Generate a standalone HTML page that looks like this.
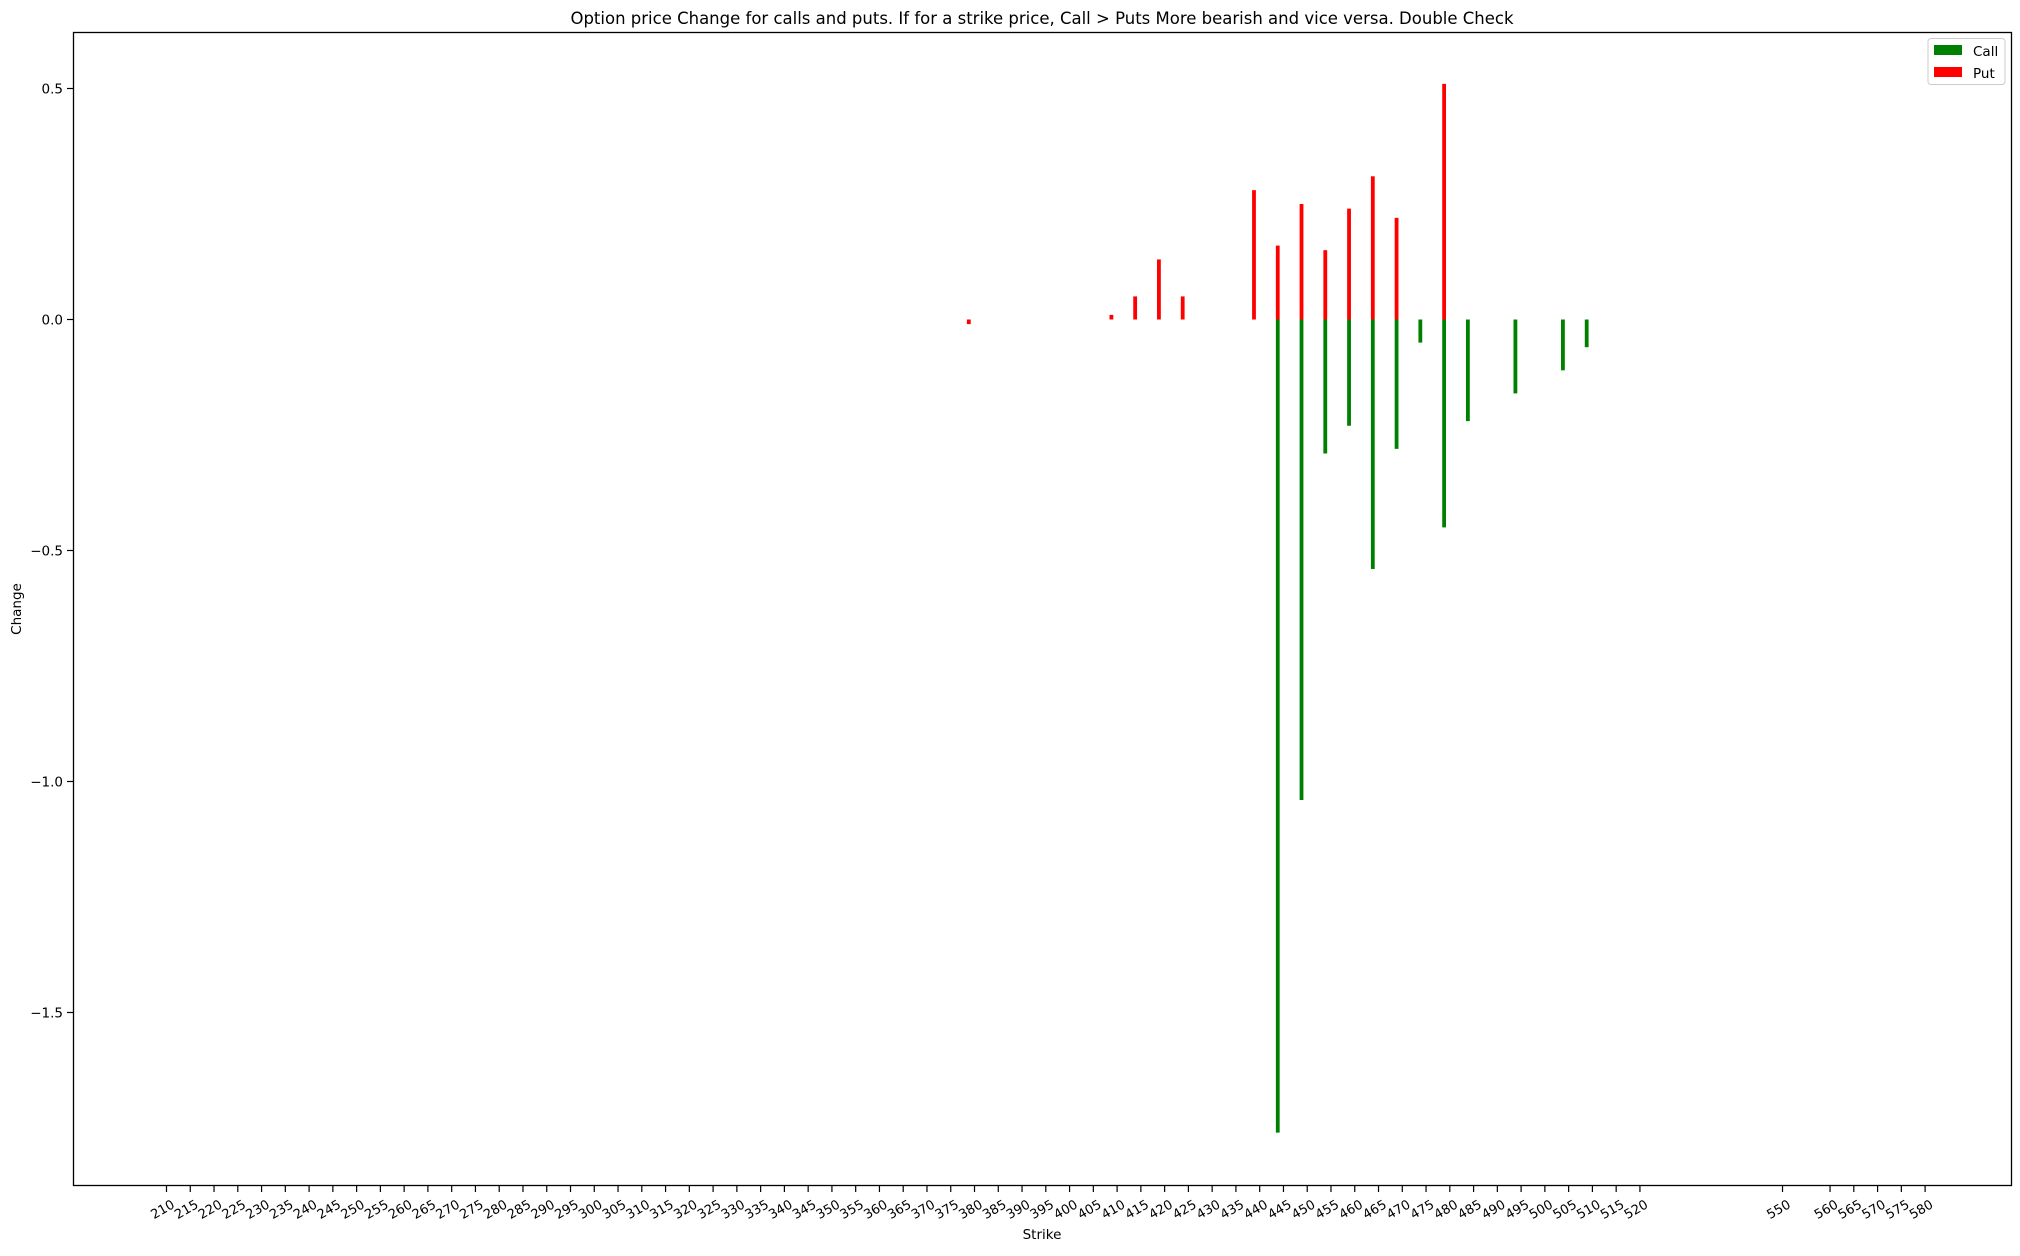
<!DOCTYPE html>
<html><head><meta charset="utf-8"><style>
body{margin:0;background:#fff}
svg text{font-family:"DejaVu Sans","Liberation Sans",sans-serif;fill:#000}
</style></head><body>
<svg id="chart" width="2020" height="1251" xmlns="http://www.w3.org/2000/svg">
<rect width="2020" height="1251" fill="#fff"/>
<text x="1042" y="24" font-size="16.5" text-anchor="middle">Option price Change for calls and puts. If for a strike price, Call &gt; Puts More bearish and vice versa. Double Check</text>
<g id="bars"></g>
<g id="yaxis"></g>
<g id="xaxis"></g>
<rect x="73.5" y="32.5" width="1938" height="1153" fill="none" stroke="#000" stroke-width="1.3"/>
<text x="21" y="609" font-size="13.5" text-anchor="middle" transform="rotate(-90 21 609)">Change</text>
<text x="1042" y="1239" font-size="13.5" text-anchor="middle">Strike</text>
<g>
<rect x="1928" y="38.5" width="77" height="46" rx="3" fill="#fff" stroke="#ccc"/>
<rect x="1934" y="45" width="28" height="10" fill="#008000"/>
<text x="1973" y="56" font-size="13.5">Call</text>
<rect x="1934" y="67" width="28" height="10" fill="#ff0000"/>
<text x="1973" y="78" font-size="13.5">Put</text>
</g>
</svg>
<script>
const putStrikes=[380,410,415,420,425,440,445,450,455,460,465,470,480];
const putValues=[-0.01,0.01,0.05,0.13,0.05,0.28,0.16,0.25,0.15,0.24,0.31,0.22,0.51];
const callStrikes=[445,450,455,460,465,470,475,480,485,495,505,510];
const callValues=[-1.76,-1.04,-0.29,-0.23,-0.54,-0.28,-0.05,-0.45,-0.22,-0.16,-0.11,-0.06];
const xTicks=[];
for(let s=210;s<=520;s+=5)xTicks.push(s);
xTicks.push(550,560,565,570,575,580);
const yTicks=[0.5,0.0,-0.5,-1.0,-1.5];
const yTickLabels=["0.5","0.0","\u22120.5","\u22121.0","\u22121.5"];

const NS="http://www.w3.org/2000/svg";
const xS=v=>166.5+(v-210)*4.753;
const yS=v=>319.5-v*462;
const barOff=-1.2, barW=0.8;
function mk(t,a,p){const e=document.createElementNS(NS,t);for(const k in a)e.setAttribute(k,a[k]);p.appendChild(e);return e;}
const bars=document.getElementById('bars');
function drawBars(strikes,vals,color,name){
  strikes.forEach((s,i)=>{
    const v=vals[i];
    const x0=xS(s+barOff-barW/2),x1=xS(s+barOff+barW/2);
    const y0=Math.min(yS(0),yS(v)),y1=Math.max(yS(0),yS(v));
    const r=mk('rect',{x:x0,y:y0,width:x1-x0,height:Math.max(y1-y0,1),fill:color},bars);
    
    
  });
}
drawBars(putStrikes,putValues,'#ff0000','put');
drawBars(callStrikes,callValues,'#008000','call');
const ya=document.getElementById('yaxis');
yTicks.forEach((v,i)=>{
  const y=yS(v);
  mk('line',{x1:73.5,x2:67,y1:y,y2:y,stroke:'#000','stroke-width':1.2},ya);
  const t=mk('text',{x:63,y:y+5,'font-size':13.5,'text-anchor':'end'},ya);
  t.textContent=yTickLabels[i];
  
  
});
const xa=document.getElementById('xaxis');
xTicks.forEach(s=>{
  const x=xS(s);
  mk('line',{x1:x,x2:x,y1:1186,y2:1192,stroke:'#000','stroke-width':1.2},xa);
  const tx=x+9, ty=1207;
  const t=mk('text',{x:tx,y:ty,'font-size':13,'text-anchor':'end',transform:`rotate(-30 ${tx} ${ty})`},xa);
  t.textContent=s;
  
  
});
</script>
</body></html>
